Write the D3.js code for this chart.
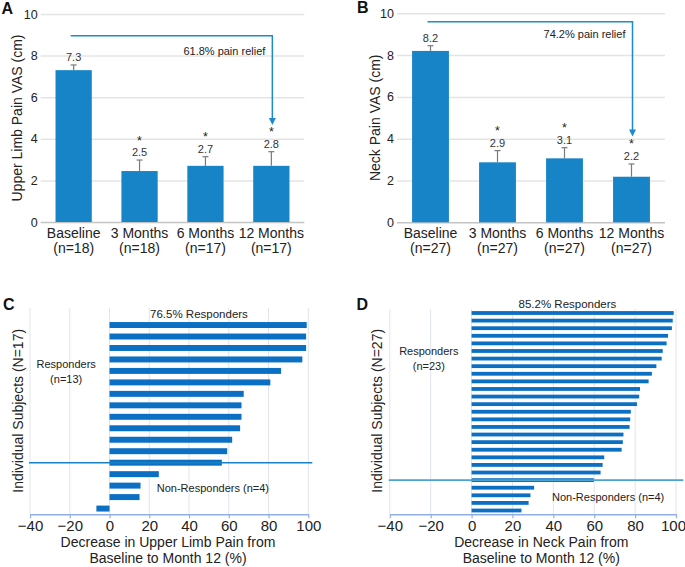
<!DOCTYPE html>
<html>
<head>
<meta charset="utf-8">
<script src="https://cdn.jsdelivr.net/npm/d3@7"></script>
<style>
  body { margin: 0; background: #fff; }
  svg { font-family: "Liberation Sans", Arial, sans-serif; }
</style>
</head>
<body>
<svg width="685" height="567"></svg>
<script>
// ---- panels A / B : mean VAS by visit ----
var visits = ["Baseline", "3 Months", "6 Months", "12 Months"];
var vasTicks = [0, 2, 4, 6, 8, 10];

var limbN = ["(n=18)", "(n=18)", "(n=17)", "(n=17)"];
var limbMean = [7.3, 2.45, 2.7, 2.7];
var limbErr = [0.25, 0.53, 0.44, 0.68];
var limbLabels = ["7.3", "2.5", "2.7", "2.8"];

var neckN = ["(n=27)", "(n=27)", "(n=27)", "(n=27)"];
var neckMean = [8.2, 2.87, 3.06, 2.18];
var neckErr = [0.25, 0.56, 0.51, 0.61];
var neckLabels = ["8.2", "2.9", "3.1", "2.2"];

// ---- panels C / D : per-subject % decrease at month 12 ----
var pctTicks = [-40, -20, 0, 20, 40, 60, 80, 100];
var limbChange = [99.2, 98.9, 98.9, 97, 86.3, 80.9, 67.5, 66.4, 66.4, 65.7, 61.7, 59.2, 56.5,
                  24.8, 15.6, 15.1, -6.6];
var neckChange = [98.9, 98.4, 98, 96.1, 95.4, 93.5, 93, 90.4, 88.2, 86.6, 82.4, 82, 80.9,
                  77.9, 77.6, 77.3, 74.3, 74, 73.4, 64.9, 64.1, 63.1, 59.8,
                  30.6, 28.8, 27.9, 24.4];

var svg = d3.select("svg");
var ink = "#222";

function barPanel(o) {
  var x = d3.scaleBand().domain(visits).range([o.x0, o.x1])
    .paddingInner(0.45).paddingOuter(0.225);
  var y = d3.scaleLinear().domain([0, 10]).range([o.yBottom, o.yTop]);
  var bw = x.bandwidth();
  var g = svg.append("g");

  g.append("g")
    .attr("transform", `translate(${o.x0},0)`)
    .call(d3.axisLeft(y).tickValues(vasTicks).tickSize(-(o.x1 - o.x0)).tickPadding(3))
    .attr("font-family", null)
    .attr("font-size", 12.5)
    .call(a => a.select(".domain").remove())
    .call(a => a.selectAll(".tick line")
      .attr("stroke", d => d === 0 ? "#c4c4c4" : "#e4e4e4")
      .attr("stroke-width", 1.5))
    .call(a => a.selectAll(".tick text").attr("fill", ink));

  g.selectAll("rect.bar")
    .data(o.mean)
    .join("rect")
    .attr("class", "bar")
    .attr("x", (d, i) => x(visits[i]))
    .attr("y", d => y(d))
    .attr("width", bw)
    .attr("height", d => y(0) - y(d))
    .attr("fill", "#1684c6");

  o.mean.forEach((m, i) => {
    var cx = x(visits[i]) + bw / 2;
    var top = y(m + o.err[i]);
    g.append("line").attr("x1", cx).attr("x2", cx).attr("y1", y(m)).attr("y2", top)
      .attr("stroke", "#7a7a7a").attr("stroke-width", 1.2);
    g.append("line").attr("x1", cx - 3).attr("x2", cx + 3).attr("y1", top).attr("y2", top)
      .attr("stroke", "#7a7a7a").attr("stroke-width", 1.2);
    g.append("text").attr("x", cx).attr("y", top - 4)
      .attr("text-anchor", "middle").attr("font-size", 11).attr("fill", "#333")
      .text(o.labels[i]);
    if (i > 0) {
      g.append("text").attr("x", cx).attr("y", top - 15.5)
        .attr("text-anchor", "middle").attr("font-size", 12.5).attr("fill", ink)
        .text("*");
    }
    g.append("text").attr("x", cx).attr("y", o.yBottom + 16)
      .attr("text-anchor", "middle").attr("font-size", 14).attr("fill", ink)
      .text(visits[i]);
    g.append("text").attr("x", cx).attr("y", o.yBottom + 31)
      .attr("text-anchor", "middle").attr("font-size", 14).attr("fill", ink)
      .text(o.counts[i]);
  });

  // pain relief arrow
  var sx = x(visits[0]) + bw / 2 - 3;
  var ex = x(visits[3]) + bw / 2 + 1;
  var ay = y(o.arrowTop), tip = y(o.arrowTip);
  g.append("path")
    .attr("d", `M${sx},${ay}H${ex}V${tip - 6}`)
    .attr("fill", "none").attr("stroke", "#1a8bd0").attr("stroke-width", 1.5);
  g.append("path")
    .attr("d", `M${ex - 3.5},${tip - 7}L${ex + 3.5},${tip - 7}L${ex},${tip}Z`)
    .attr("fill", "#1a8bd0");
  g.append("text").attr("x", ex - 7).attr("y", ay + o.reliefDy)
    .attr("text-anchor", "end").attr("font-size", 11).attr("fill", ink)
    .text(o.relief);

  g.append("text")
    .attr("transform", `translate(${o.titleX},${(o.yTop + o.yBottom) / 2}) rotate(-90)`)
    .attr("dy", "0.35em").attr("text-anchor", "middle")
    .attr("font-size", 14).attr("fill", ink)
    .text(o.title);

  g.append("text").attr("x", o.letterX).attr("y", o.letterY)
    .attr("font-size", 16).attr("font-weight", "bold").attr("fill", "#111")
    .text(o.letter);
}

function waterfall(o) {
  var x = d3.scaleLinear().domain([-40, 100]).range([o.x0, o.x1]);
  var y = d3.scaleBand().domain(d3.range(o.values.length)).range([o.bandTop, o.axisY])
    .paddingInner(o.pad).paddingOuter(o.pad / 2);
  var bh = y.bandwidth();
  var g = svg.append("g");

  g.selectAll("line.grid")
    .data(pctTicks)
    .join("line")
    .attr("class", "grid")
    .attr("x1", d => x(d)).attr("x2", d => x(d))
    .attr("y1", o.gridTop).attr("y2", o.axisY)
    .attr("stroke", "#dfe4ee").attr("stroke-width", 1);

  g.selectAll("rect.bar")
    .data(o.values)
    .join("rect")
    .attr("class", "bar")
    .attr("x", d => x(Math.min(0, d)))
    .attr("y", (d, i) => y(i))
    .attr("width", d => Math.abs(x(d) - x(0)))
    .attr("height", bh)
    .attr("fill", "#0b6fc3");

  var sepY = y(o.nResp - 1) + bh / 2;
  g.append("line")
    .attr("x1", x(-40) - 1).attr("x2", o.sepEnd)
    .attr("y1", sepY).attr("y2", sepY)
    .attr("stroke", o.sepColor).attr("stroke-width", 1.6);

  g.append("g")
    .attr("transform", `translate(0,${o.axisY})`)
    .call(d3.axisBottom(x).tickValues(pctTicks).tickSizeInner(4).tickSizeOuter(0).tickPadding(2))
    .attr("font-family", null)
    .attr("font-size", 15)
    .call(a => a.select(".domain").attr("stroke", "#8fb0e0").attr("stroke-width", 1.5))
    .call(a => a.selectAll(".tick line").attr("stroke", "#8fb0e0").attr("stroke-width", 1.2))
    .call(a => a.selectAll(".tick text").attr("fill", ink)
      .attr("dx", d => d === 100 ? o.lastDx : 0));

  g.append("text").attr("x", x(o.headX)).attr("y", o.bandTop - 1.5)
    .attr("text-anchor", "middle").attr("font-size", 11.5).attr("fill", ink)
    .text(o.head);
  g.append("text").attr("x", x(o.respX)).attr("y", o.respY)
    .attr("text-anchor", "middle").attr("font-size", 11).attr("fill", ink)
    .text("Responders");
  g.append("text").attr("x", x(o.respX)).attr("y", o.respY + 14.5)
    .attr("text-anchor", "middle").attr("font-size", 11).attr("fill", ink)
    .text(o.respN);
  g.append("text").attr("x", x(o.nonX)).attr("y", o.nonY)
    .attr("text-anchor", "middle").attr("font-size", 11).attr("fill", ink)
    .text("Non-Responders (n=4)");

  g.append("text")
    .attr("transform", `translate(${o.titleX},410.8) rotate(-90)`)
    .attr("dy", "0.35em").attr("text-anchor", "middle")
    .attr("font-size", 14).attr("fill", ink)
    .text(o.ytitle);

  o.xtitle.forEach((t, i) => {
    g.append("text").attr("x", o.xtitleX).attr("y", o.axisY + 32.5 + i * 16.2)
      .attr("text-anchor", "middle").attr("font-size", 14).attr("fill", ink)
      .text(t);
  });

  g.append("text").attr("x", o.letterX).attr("y", 309.5)
    .attr("font-size", 16).attr("font-weight", "bold").attr("fill", "#111")
    .text(o.letter);
}

barPanel({
  x0: 40.7, x1: 304.3, yBottom: 222, yTop: 14,
  mean: limbMean, err: limbErr, labels: limbLabels, counts: limbN,
  arrowTop: 8.95, arrowTip: 4.66, relief: "61.8% pain relief", reliefDy: 19,
  title: "Upper Limb Pain VAS (cm)", titleX: 17,
  letter: "A", letterX: 1.5, letterY: 13.5
});

barPanel({
  x0: 397, x1: 665, yBottom: 222.3, yTop: 13.3,
  mean: neckMean, err: neckErr, labels: neckLabels, counts: neckN,
  arrowTop: 9.6, arrowTip: 4.1, relief: "74.2% pain relief", reliefDy: 16.5,
  title: "Neck Pain VAS (cm)", titleX: 375,
  letter: "B", letterX: 357, letterY: 12.5
});

waterfall({
  x0: 30, x1: 308.3, bandTop: 319.3, axisY: 514.3, gridTop: 308, pad: 0.48,
  values: limbChange, nResp: 13, sepEnd: 312.3, sepColor: "#1a80c6",
  head: "76.5% Responders", headX: 45,
  respX: -21.8, respY: 368, respN: "(n=13)",
  nonX: 52, nonY: 492, lastDx: 0,
  ytitle: "Individual Subjects (N=17)", titleX: 18.3,
  xtitle: ["Decrease in Upper Limb Pain from", "Baseline to Month 12 (%)"], xtitleX: 168,
  letter: "C", letterX: 3
});

waterfall({
  x0: 389.8, x1: 676, bandTop: 309.2, axisY: 514.3, gridTop: 309, pad: 0.5,
  values: neckChange, nResp: 23, sepEnd: 683.3, sepColor: "#4ba3d3",
  head: "85.2% Responders", headX: 46.9,
  respX: -20.9, respY: 355, respN: "(n=23)",
  nonX: 66.8, nonY: 501.3, lastDx: -3,
  ytitle: "Individual Subjects (N=27)", titleX: 376.7,
  xtitle: ["Decrease in Neck Pain from", "Baseline to Month 12 (%)"], xtitleX: 541.3,
  letter: "D", letterX: 356.5
});
</script>
</body>
</html>
